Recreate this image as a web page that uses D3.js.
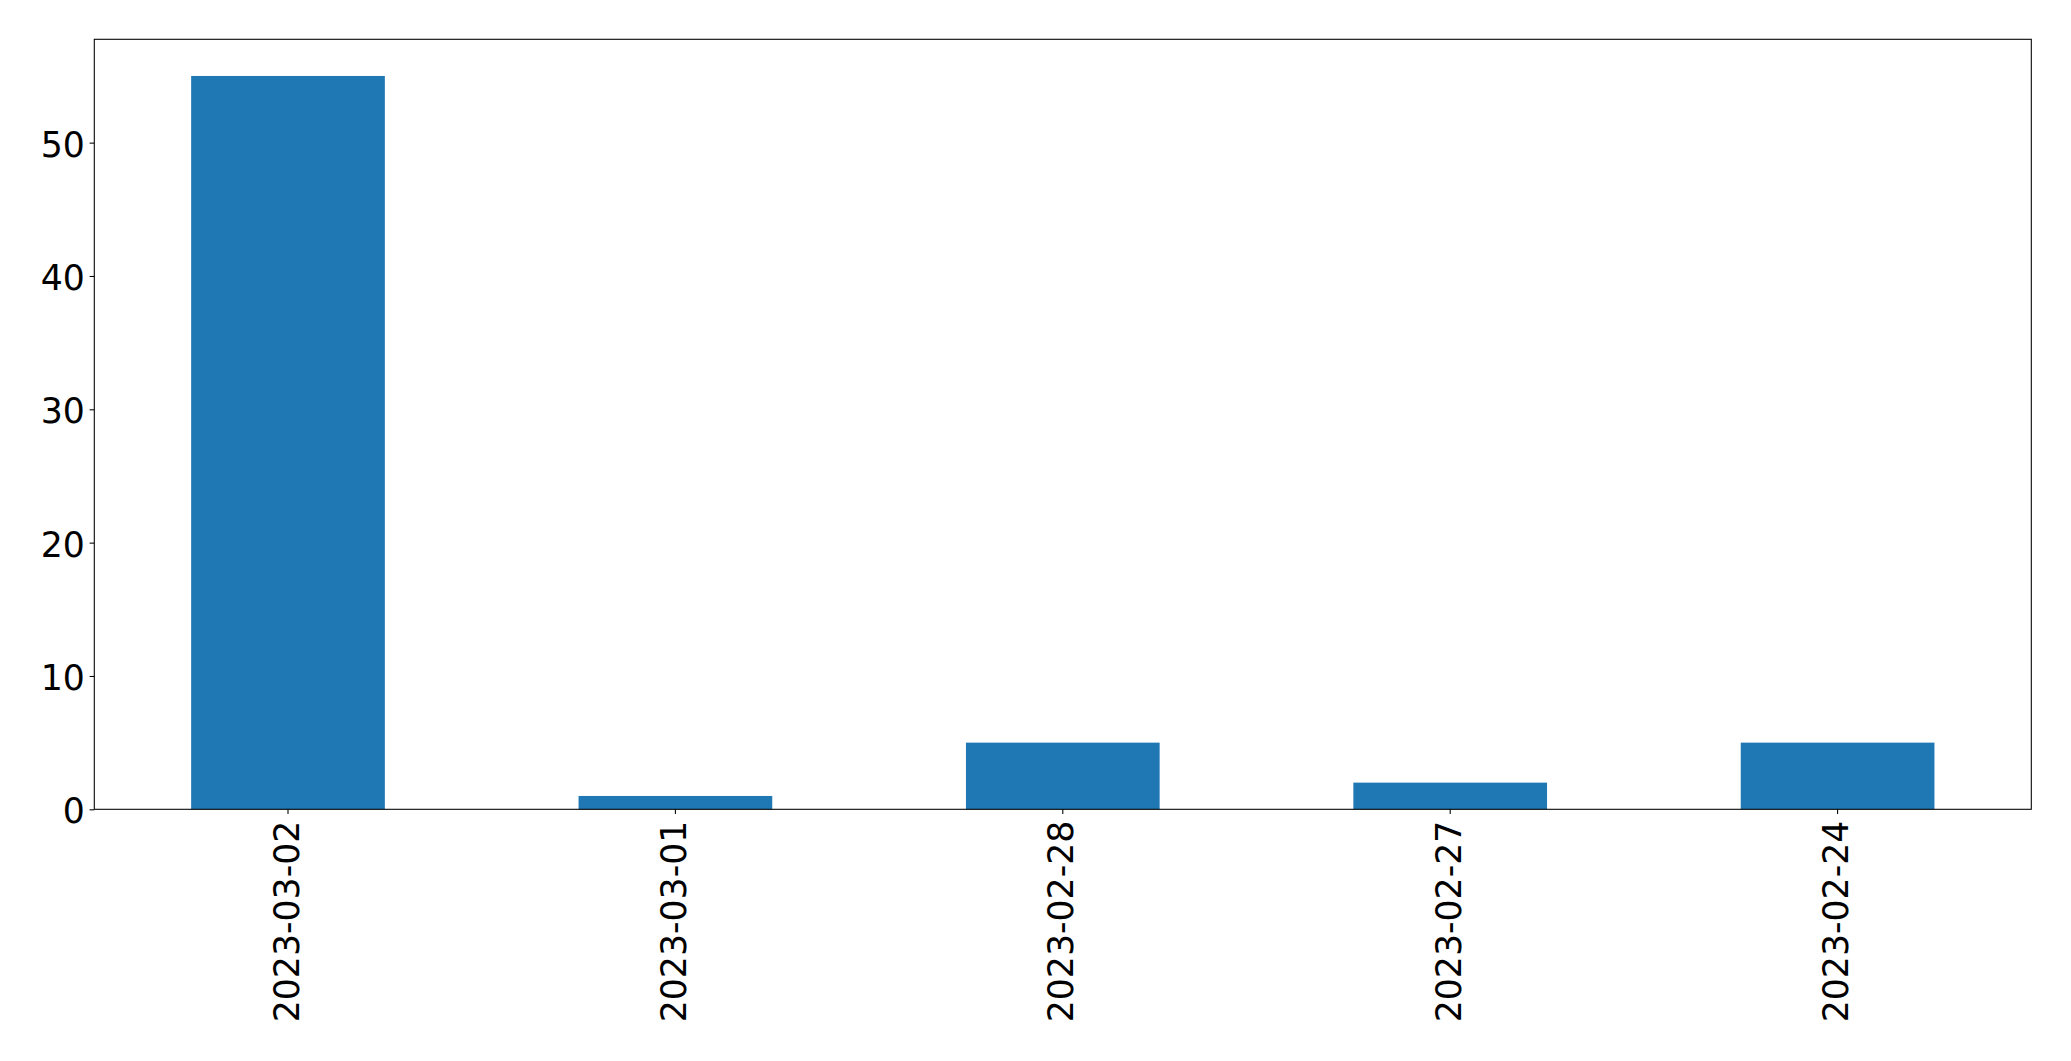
<!DOCTYPE html>
<html><head><meta charset="utf-8">
<script src="https://cdn.jsdelivr.net/npm/d3@7"></script>
<style>body{margin:0;background:#fff}svg{display:block}</style>
</head><body>
<script>
const categories = ["2023-03-02","2023-03-01","2023-02-28","2023-02-27","2023-02-24"];
const values = [55, 1, 5, 2, 5];
const yTicks = [0, 10, 20, 30, 40, 50];

const W = 2071, H = 1061;
const m = {left: 94.3, right: W - 2031.3, top: 39.3, bottom: H - 809.3};
const svg = d3.select("body").append("svg").attr("width", W).attr("height", H);
const iw = W - m.left - m.right, ih = H - m.top - m.bottom;
const g = svg.append("g").attr("transform", `translate(${m.left},${m.top})`);

const x = d3.scaleBand().domain(categories).range([0, iw]).paddingInner(0.5).paddingOuter(0.25);
const y = d3.scaleLinear().domain([0, 55 * 1.05]).range([ih, 0]);

g.selectAll("rect.bar").data(values).join("rect").attr("class","bar")
  .attr("x", (d,i) => x(categories[i]))
  .attr("width", x.bandwidth())
  .attr("y", d => y(d))
  .attr("height", d => y(0) - y(d))
  .attr("fill", "#1f77b4");

const font = "'DejaVu Sans', sans-serif";
const fs = "34.7px";

const ya = g.append("g").call(d3.axisLeft(y).tickValues(yTicks).tickSize(4.7).tickPadding(4.7).tickFormat(d3.format("d")));
ya.select(".domain").remove();
ya.selectAll("line").attr("stroke","#000").attr("stroke-width",1.07);
ya.selectAll("text").attr("font-family", font).attr("font-size", fs).attr("fill","#000").attr("dy","0.39em");

const xa = g.append("g").attr("transform", `translate(0,${ih})`).call(d3.axisBottom(x).tickSize(4.7).tickPadding(4.7));
xa.select(".domain").remove();
xa.selectAll("line").attr("stroke","#000").attr("stroke-width",1.07);
xa.selectAll("text").attr("font-family", font).attr("font-size", fs).attr("fill","#000")
  .attr("transform","rotate(-90)").attr("text-anchor","end")
  .attr("x", -11.4).attr("y", 0).attr("dy","0.305em");

g.append("rect").attr("x",0).attr("y",0).attr("width",iw).attr("height",ih)
  .attr("fill","none").attr("stroke","#000").attr("stroke-width",1.07);
</script>
</body></html>
